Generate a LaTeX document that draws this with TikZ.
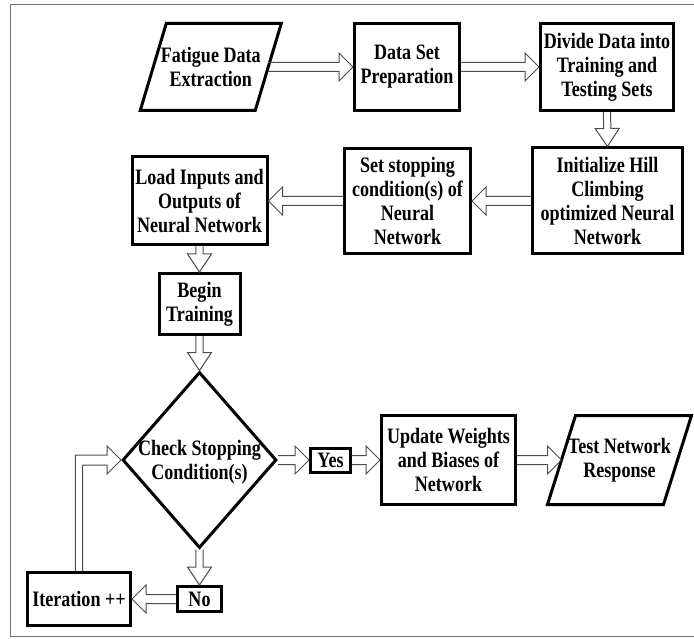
\documentclass[tikz,border=0pt]{standalone}
\usepackage{fontspec}
\setmainfont{Liberation Serif}[FakeStretch=0.82]
\usetikzlibrary{calc,shapes.geometric}
\newcommand{\txtfont}{\bfseries\fontsize{22}{24}\selectfont}
\tikzset{
  box/.style={draw=black, line width=3pt, align=center, inner sep=1pt, font=\txtfont, text=black},
  txt/.style={align=center, inner sep=0pt, font=\txtfont, text=black},
  diam/.style={draw=black, line width=3pt, shape=diamond, inner sep=0pt},
  boxline/.style={draw=black, line width=3pt},
  arrowline/.style={draw=black!70, line width=1pt, line join=miter},
  frameline/.style={draw=black!55, line width=1.5pt}
}
% hollow block arrow: start, end, half shaft, half head, head length
\newcommand{\barrow}[5]{%
  \coordinate (bS) at (#1); \coordinate (bE) at (#2);
  \coordinate (bB) at ($(bE)!#5pt!(bS)$);
  \draw[arrowline] ($(bS)!#3pt!90:(bE)$) -- ($(bB)!#3pt!90:(bE)$) -- ($(bB)!#4pt!90:(bE)$) -- (bE)
     -- ($(bB)!#4pt!-90:(bE)$) -- ($(bB)!#3pt!-90:(bE)$) -- ($(bS)!#3pt!-90:(bE)$);
}
\newcommand{\harrow}[2]{\barrow{#1}{#2}{4.5}{14}{14}}
\newcommand{\varrow}[2]{\barrow{#1}{#2}{3.6}{12}{18}}
\begin{document}
\begin{tikzpicture}[x=1pt,y=-1pt]
\useasboundingbox (0,0) rectangle (694,639);
\draw[frameline] (700,4.5) -- (10.5,4.5) -- (10.5,636.5) -- (700,636.5);

% top row
\node[txt] (fat) at (210.75,67) {Fatigue Data\\Extraction};
\draw[boxline] ($(fat.center)+(-70.5,43.5)$) -- ($(fat.center)+(44.5,43.5)$) -- ($(fat.center)+(70.5,-43.5)$) -- ($(fat.center)+(-44.5,-43.5)$) -- cycle;
\coordinate (fate) at ($(fat.center)+(57.5,0)$);
\node[box, minimum width=105pt, minimum height=87pt] (prep) at (407,67) {Data Set\\Preparation};
\node[box, minimum width=133pt, minimum height=87pt] (div) at (607,67) {Divide Data into\\Training and\\Testing Sets};

% second row
\node[box, minimum width=150pt, minimum height=106pt] (init) at (607.5,201) {Initialize Hill\\Climbing\\optimized Neural\\Network};
\node[box, minimum width=126pt, minimum height=105pt] (set) at (407.5,201) {Set stopping\\condition(s) of\\Neural\\Network};
\node[box, minimum width=135pt, minimum height=88pt] (load) at (199.5,201) {Load Inputs and\\Outputs of\\Neural Network};

% column
\node[box, minimum width=81pt, minimum height=61pt] (begin) at (199.5,304) {Begin\\Training};
\node[diam, minimum width=154pt, minimum height=176pt] (dia) at (199.5,460) {};
\node[txt] (diat) at (199.5,462) {Check Stopping\\Condition(s)};
\node[box, minimum width=40pt, minimum height=24pt] (yes) at (330.5,460) {Yes};
\node[box, minimum width=134pt, minimum height=89pt] (upd) at (448.5,460) {Update Weights\\and Biases of\\Network};
\node[txt] (test) at (619.5,460) {Test Network\\Response};
\draw[boxline] ($(test.center)+(-72,44.5)$) -- ($(test.center)+(44,44.5)$) -- ($(test.center)+(72,-44.5)$) -- ($(test.center)+(-44,-44.5)$) -- cycle;
\coordinate (testw) at ($(test.center)+(-58,0)$);
\node[box, minimum width=44pt, minimum height=25pt] (no) at (199.5,599) {No};
\node[box, minimum width=103pt, minimum height=53pt] (it) at (79,599) {Iteration ++};

% arrows
\harrow{fate}{prep.west}
\harrow{prep.east}{div.west}
\varrow{div.south}{init.north}
\harrow{init.west}{set.east}
\harrow{set.west}{load.east}
\varrow{load.south}{begin.north}
\varrow{begin.south}{dia.north}
\harrow{dia.east}{yes.west}
\harrow{yes.east}{upd.west}
\harrow{upd.east}{testw}
\varrow{dia.south}{no.north}
\harrow{no.west}{it.east}
\draw[arrowline] ($(it.north)+(-3.6,0)$) |- ($(dia.west)+(-14,-5)$) -- ($(dia.west)+(-14,-14)$) -- (dia.west)
   -- ($(dia.west)+(-14,14)$) -- ($(dia.west)+(-14,5)$) -| ($(it.north)+(3.6,0)$);
\end{tikzpicture}
\end{document}
